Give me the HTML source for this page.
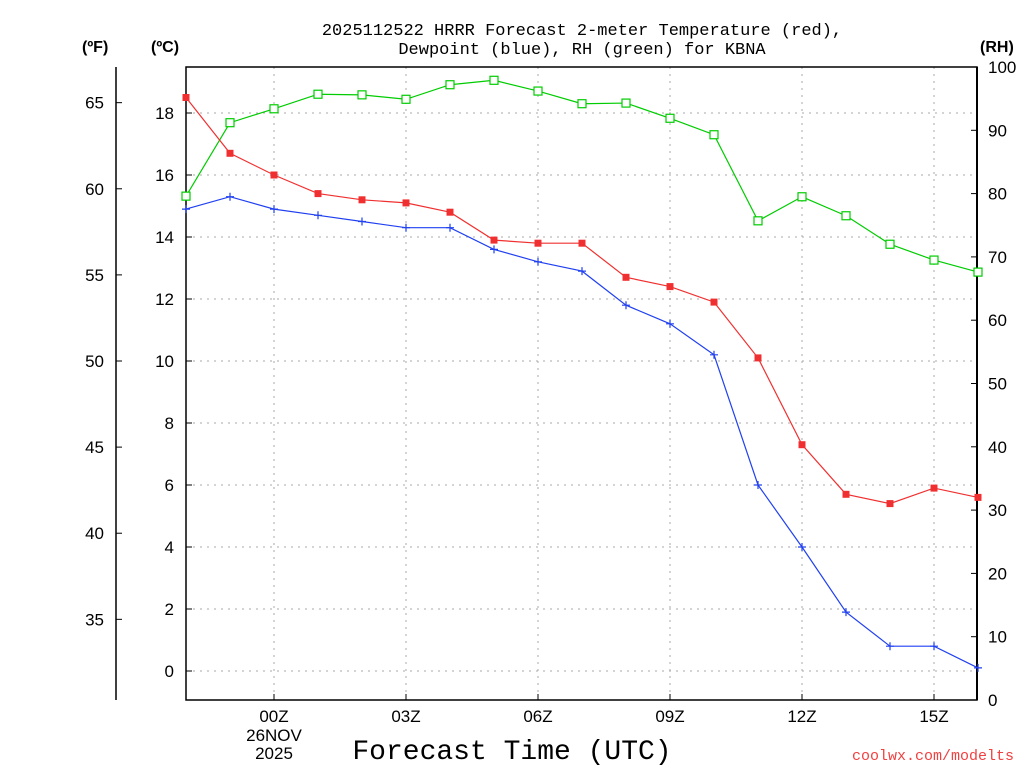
<!DOCTYPE html>
<html><head><meta charset="utf-8"><style>
body{margin:0;background:#fff;width:1024px;height:768px;overflow:hidden}
svg{font-family:"Liberation Sans",sans-serif}
</style></head><body>
<svg id="c" width="1024" height="768"></svg>
<script>
const hours=[-2,-1,0,1,2,3,4,5,6,7,8,9,10,11,12,13,14,15,16];
const tempC=[18.5,16.7,16.0,15.4,15.2,15.1,14.8,13.9,13.8,13.8,12.7,12.4,11.9,10.1,7.3,5.7,5.4,5.9,5.6];
const dewC=[14.9,15.3,14.9,14.7,14.5,14.3,14.3,13.6,13.2,12.9,11.8,11.2,10.2,6.0,4.0,1.9,0.8,0.8,0.1];
const rh=[79.6,91.2,93.4,95.7,95.6,94.9,97.2,97.9,96.2,94.2,94.3,91.9,89.3,75.7,79.5,76.5,72.0,69.5,67.6];
const cTicks=[0,2,4,6,8,10,12,14,16,18];
const fTicks=[35,40,45,50,55,60,65];
const rhTicks=[0,10,20,30,40,50,60,70,80,90,100];
const xTicks=[0,3,6,9,12,15];
const xLabels=["00Z","03Z","06Z","09Z","12Z","15Z"];
const NS="http://www.w3.org/2000/svg";
const svg=document.getElementById('c');
const L=186,R=977,T=67,B=700;
const xs=h=>274+h*44;
const yc=c=>671-c*31;
const yf=f=>yc((f-32)/1.8);
const yr=r=>700-r*6.33;
function el(t,a,txt){const e=document.createElementNS(NS,t);for(const k in a)e.setAttribute(k,a[k]);if(txt!=null)e.textContent=txt;svg.appendChild(e);return e;}
cTicks.forEach(c=>{const g=el('line',{x1:L,x2:R,y1:yc(c),y2:yc(c),stroke:'#aaa','stroke-dasharray':'2,5'});

});
xTicks.forEach(h=>{const g=el('line',{x1:xs(h),x2:xs(h),y1:T,y2:B,stroke:'#aaa','stroke-dasharray':'2,5'});

});
const fr=el('rect',{x:L,y:T,width:R-L,height:B-T,fill:'none',stroke:'#000','stroke-width':1.5});


el('line',{x1:R,x2:R,y1:T,y2:B,stroke:'#000','stroke-width':2});
cTicks.forEach(c=>{el('line',{x1:L,x2:L+6,y1:yc(c),y2:yc(c),stroke:'#000'});
const t=el('text',{x:174,y:yc(c)+6,'text-anchor':'end','font-size':17},c);

});
el('line',{x1:116,x2:116,y1:T,y2:B,stroke:'#000','stroke-width':1.5});
fTicks.forEach(f=>{el('line',{x1:116,x2:122,y1:yf(f),y2:yf(f),stroke:'#000'});
const t=el('text',{x:104,y:yf(f)+6,'text-anchor':'end','font-size':17},f);

});
rhTicks.forEach(r=>{el('line',{x1:R-6,x2:R,y1:yr(r),y2:yr(r),stroke:'#000'});
const t=el('text',{x:988,y:yr(r)+6,'font-size':17},r);

});
xTicks.forEach((h,i)=>{el('line',{x1:xs(h),x2:xs(h),y1:B-6,y2:B,stroke:'#000'});
const t=el('text',{x:xs(h),y:722,'text-anchor':'middle','font-size':17},xLabels[i]);

});
el('text',{x:274,y:741,'text-anchor':'middle','font-size':17},'26NOV');
el('text',{x:274,y:759,'text-anchor':'middle','font-size':17},'2025');
function series(vals,yfn,color,name,marker){
 const pts=vals.map((v,i)=>xs(hours[i])+','+yfn(v)).join(' ');
 const p=el('polyline',{points:pts,fill:'none',stroke:color,'stroke-width':1.2});
 
 
 vals.forEach((v,i)=>{const x=xs(hours[i]),y=yfn(v);let m;
  if(marker==='fill')m=el('rect',{x:x-3.5,y:y-3.5,width:7,height:7,fill:color});
  else if(marker==='open')m=el('rect',{x:x-4,y:y-4,width:8,height:8,fill:'#fff',stroke:color,'stroke-width':1.2});
  else m=el('path',{d:`M${x-4},${y}H${x+4}M${x},${y-4}V${y+4}`,stroke:color,'stroke-width':1.2});
  
  });
}
series(rh,yr,'#00cc00','rh','open');
series(tempC,yc,'#f03030','temperature','fill');
series(dewC,yc,'#2040f0','dewpoint','plus');
const t1=el('text',{x:582,y:35,'text-anchor':'middle','font-size':17,'font-family':'Liberation Mono, monospace'},'2025112522 HRRR Forecast 2-meter Temperature (red),');


el('text',{x:582,y:54,'text-anchor':'middle','font-size':17,'font-family':'Liberation Mono, monospace'},'Dewpoint (blue), RH (green) for KBNA');
const a=el('text',{x:82,y:52,'font-size':16,'font-weight':'bold'},'(ºF)');


const b=el('text',{x:151,y:52,'font-size':16,'font-weight':'bold'},'(ºC)');


const c=el('text',{x:980,y:52,'font-size':16,'font-weight':'bold'},'(RH)');


const xt=el('text',{x:512,y:759,'text-anchor':'middle','font-size':28,'font-family':'Liberation Mono, monospace'},'Forecast Time (UTC)');


const w=el('text',{x:1014,y:760,'text-anchor':'end','font-size':15,fill:'#f04040','font-family':'Liberation Mono, monospace'},'coolwx.com/modelts');


</script>
</body></html>
